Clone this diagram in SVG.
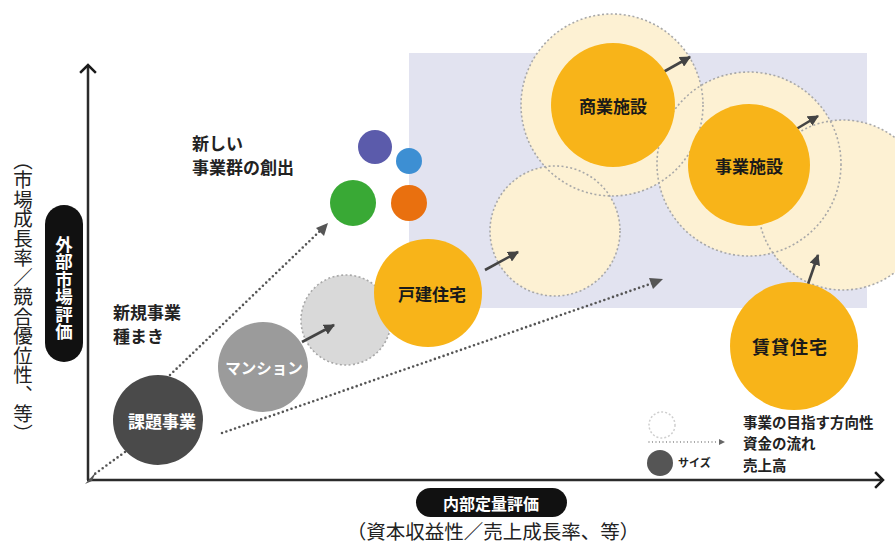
<svg xmlns="http://www.w3.org/2000/svg" width="895" height="551" viewBox="0 0 895 551">
<defs>
<style>
text{font-family:"Noto Sans CJK JP","Noto Sans",sans-serif;font-weight:bold;}
.lbl{font-size:17px;fill:#1a1a1a;text-anchor:middle;dominant-baseline:central;}
.wlbl{font-size:17px;fill:#ffffff;text-anchor:middle;dominant-baseline:central;}
.note{font-size:17px;fill:#222;}
.leg{font-size:14.5px;fill:#222;}
.axis{stroke:#2b2b2b;stroke-width:2.5;fill:none;}
.chev{stroke:#1a1a1a;stroke-width:2.5;fill:none;stroke-linecap:square;}
.dot{stroke:#555;stroke-width:2.6;fill:none;stroke-dasharray:0 4.6;stroke-linecap:round;}
.arr{stroke:#444;stroke-width:2.6;fill:none;}
.halo{fill:#fdf1d3;}
.ring{fill:none;stroke:#a8a8a8;stroke-width:1.6;stroke-dasharray:2 2.4;}
.core{fill:#f8b419;}
.vert{writing-mode:vertical-rl;text-anchor:middle;}
</style>
<marker id="ah" viewBox="0 0 10 10" refX="9" refY="5" markerWidth="11" markerHeight="11" markerUnits="userSpaceOnUse" orient="auto">
<path d="M0,0 L10,5 L0,10 z" fill="#444"/>
</marker>
</defs>
<rect width="895" height="551" fill="#ffffff"/>

<rect id="zone" x="409" y="53" width="458" height="255" fill="#e2e3f0"/>

<g id="axes">
<line class="axis" x1="88" y1="480" x2="88" y2="66"/>
<polyline class="chev" points="81,72 88,65 95,72"/>
<line class="axis" x1="87" y1="480" x2="881" y2="480"/>
<polyline class="chev" points="876,473 883,480 876,487"/>
</g>

<g id="halos">
<circle class="halo" cx="555" cy="231" r="65"/>
<circle class="halo" cx="612" cy="105" r="91"/>
<circle class="halo" cx="843" cy="205" r="85"/>
<circle class="halo" cx="749" cy="164" r="92"/>
<circle class="ring" cx="555" cy="231" r="65"/>
<circle class="ring" cx="612" cy="105" r="91"/>
<circle class="ring" cx="843" cy="205" r="85"/>
<circle class="ring" cx="749" cy="164" r="92"/>
<circle cx="346" cy="320" r="45" fill="#d9d9d9"/>
<circle class="ring" cx="346" cy="320" r="45" stroke="#b5b5b5"/>
</g>

<g id="connectors">
<polyline class="dot" points="125,452 92,476"/>
<path d="M85,484 L96,472 L92,481 z" fill="#555"/>
<line class="dot" x1="170" y1="375" x2="321" y2="230"/>
<path d="M328,223 L324,236 L316,228 z" fill="#555"/>
<line class="dot" x1="222" y1="433" x2="653" y2="283"/>
<path d="M663,279 L653,289 L649,278 z" fill="#555"/>
<line class="arr" x1="302" y1="342" x2="334" y2="325" marker-end="url(#ah)"/>
<line class="arr" x1="485" y1="270" x2="518" y2="252" marker-end="url(#ah)"/>
<line class="arr" x1="658" y1="75" x2="690" y2="57" marker-end="url(#ah)"/>
<line class="arr" x1="788" y1="134" x2="818" y2="116" marker-end="url(#ah)"/>
<line class="arr" x1="808" y1="284" x2="818" y2="255" marker-end="url(#ah)"/>
</g>

<g id="n-kadai">
<circle cx="158" cy="420" r="45" fill="#4a4a4a"/>
<text class="wlbl" x="162" y="420">課題事業</text>
</g>
<g id="n-mansion">
<circle cx="263" cy="367" r="45" fill="#9b9b9b"/>
<text class="wlbl" x="264" y="367" style="font-size:15.5px">マンション</text>
</g>
<g id="n-kodate">
<circle class="core" cx="428" cy="293" r="54"/>
<text class="lbl" x="432" y="293">戸建住宅</text>
</g>
<g id="n-shogyo">
<circle class="core" cx="613" cy="105" r="62"/>
<text class="lbl" x="613" y="105">商業施設</text>
</g>
<g id="n-jigyo">
<circle class="core" cx="749" cy="165" r="61"/>
<text class="lbl" x="749" y="165">事業施設</text>
</g>
<g id="n-chintai">
<circle class="core" cx="794" cy="346" r="64"/>
<text class="lbl" x="790" y="346" style="font-size:18px;letter-spacing:1px">賃貸住宅</text>
</g>

<g id="n-new">
<circle cx="375" cy="147" r="17" fill="#5b5bab"/>
<circle cx="409" cy="161" r="13" fill="#3d8fd3"/>
<circle cx="353" cy="203" r="23" fill="#39a935"/>
<circle cx="409" cy="203" r="18" fill="#e9700f"/>
</g>

<g id="notes">
<text class="note" x="192" y="150">新しい</text>
<text class="note" x="192" y="174">事業群の創出</text>
<text class="note" x="113" y="319">新規事業</text>
<text class="note" x="113" y="343">種まき</text>
</g>

<g id="y-label">
<rect x="45" y="205" width="38" height="157" rx="19" fill="#111"/>
<text class="vert" x="64" y="288" style="font-size:17.5px;fill:#fff">外部市場評価</text>
<text class="vert" x="23" y="297" style="font-size:19.5px;fill:#222;font-weight:normal">（市場成長率／競合優位性、等）</text>
</g>

<g id="x-label">
<rect x="416" y="488" width="151" height="29" rx="14.5" fill="#111"/>
<text x="491" y="503" style="font-size:16px;fill:#fff;text-anchor:middle;dominant-baseline:central">内部定量評価</text>
<text x="493" y="539" style="font-size:19.5px;fill:#222;font-weight:normal;text-anchor:middle">（資本収益性／売上成長率、等）</text>
</g>

<g id="legend">
<circle cx="662" cy="425" r="13" fill="#fff" stroke="#cfcfcf" stroke-width="1.5" stroke-dasharray="2 2"/>
<line x1="649" y1="442" x2="719" y2="442" stroke="#777" stroke-width="1.3" stroke-dasharray="0 3.5" stroke-linecap="round"/>
<path d="M725,442 L719,439 L719,445 z" fill="#666"/>
<circle cx="660" cy="463" r="13" fill="#555"/>
<text class="leg" x="678" y="467" style="font-size:11px">サイズ</text>
<text class="leg" x="743" y="428">事業の目指す方向性</text>
<text class="leg" x="743" y="449">資金の流れ</text>
<text class="leg" x="743" y="471">売上高</text>
</g>
</svg>
